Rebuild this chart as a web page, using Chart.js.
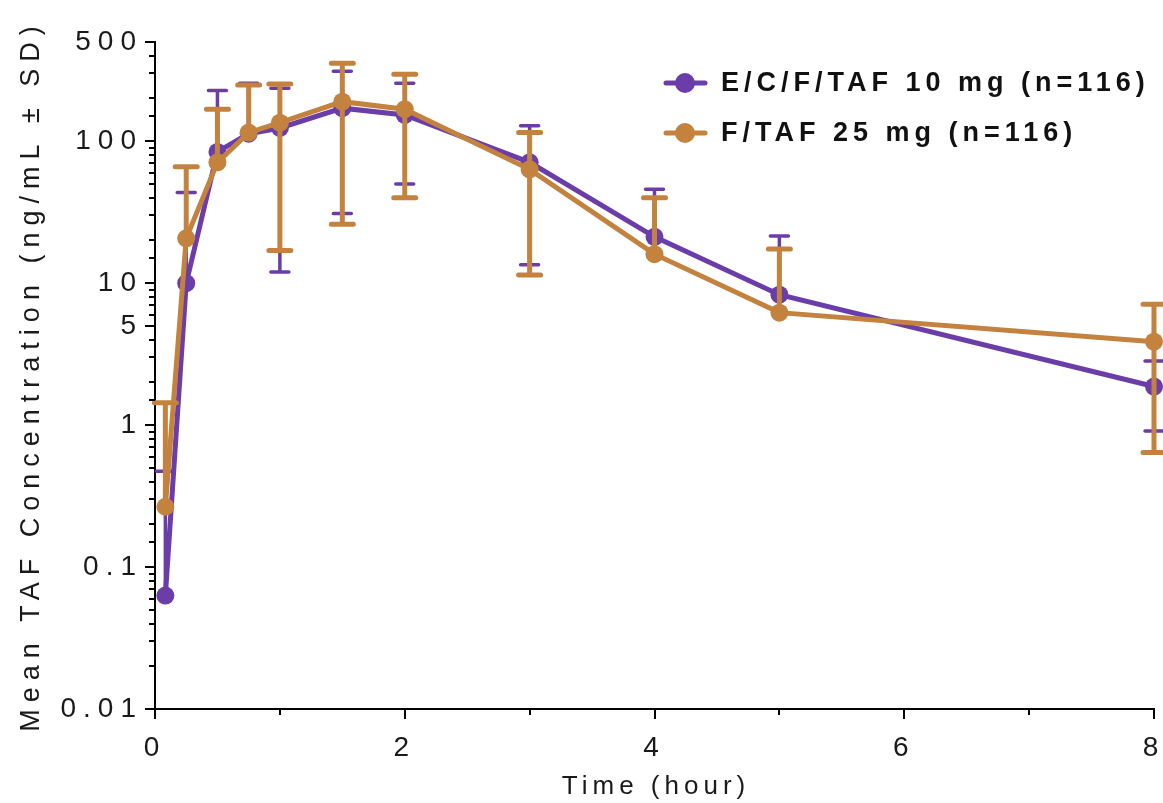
<!DOCTYPE html>
<html>
<head>
<meta charset="utf-8">
<title>Mean TAF Concentration</title>
<script src="https://cdn.jsdelivr.net/npm/chart.js@4.4.1/dist/chart.umd.min.js"></script>
<style>
  html, body { margin: 0; padding: 0; background: #fff; }
  #wrap { width: 1163px; height: 803px; position: relative; }
</style>
</head>
<body>
<div id="wrap"><canvas id="graph_ID"></canvas></div>
<script>
// sampling times (hour)
var times = [0.083, 0.25, 0.5, 0.75, 1, 1.5, 2, 3, 4, 5, 8];

// E/C/F/TAF 10 mg : mean and SD (ng/mL)
var ecfMean = [0.063, 10, 84, 113, 124, 171, 153, 71, 21.2, 8.3, 1.87];
var ecfSD   = [0.41, 33.6, 144, 143, 112, 140, 103, 57.5, 24.6, 13.2, 0.96];

// F/TAF 25 mg : mean and SD (ng/mL)
var ftafMean = [0.266, 20.7, 71, 115, 135, 190, 168, 63.4, 16.0, 6.2, 3.87];
var ftafSD   = [1.17, 45.4, 97, 134, 118, 164, 128, 52, 24, 11.2, 3.23];

var yTickLabels = [0.01, 0.1, 1, 5, 10, 100, 500];
var xTickLabels = [0, 2, 4, 6, 8];

var purple = '#6a3da8';
var orange = '#c4823f';
var fontFamily = '"Liberation Sans", Arial, sans-serif';

Chart.defaults.font.family = fontFamily;

function toPoints(means) {
  return times.map(function (t, i) { return { x: t, y: means[i] }; });
}

function yLabelFor(v) {
  for (var i = 0; i < yTickLabels.length; i++) {
    if (Math.abs(Math.log10(v / yTickLabels[i])) < 1e-6) return String(yTickLabels[i]);
  }
  return null;
}

// mean +/- SD bars, drawn right after each dataset so the layering follows it
var errorBars = {
  id: 'errorBars',
  afterDatasetDraw: function (chart, args) {
    var ds = chart.data.datasets[args.index];
    if (!ds.sd) return;
    var ctx = chart.ctx, xs = chart.scales.x, ys = chart.scales.y;
    ctx.save();
    ctx.strokeStyle = ds.borderColor;
    ctx.lineWidth = ds.errWidth;
    ctx.lineCap = 'round';
    ds.data.forEach(function (p, i) {
      var x = xs.getPixelForValue(p.x);
      var hi = p.y + ds.sd[i], lo = p.y - ds.sd[i];
      var yHi = ys.getPixelForValue(hi);
      var yLo = ys.getPixelForValue(lo > 0 ? lo : p.y);
      ctx.beginPath();
      ctx.moveTo(x, yHi); ctx.lineTo(x, yLo);
      ctx.moveTo(x - ds.capHalf, yHi); ctx.lineTo(x + ds.capHalf, yHi);
      if (lo > 0) {
        ctx.moveTo(x - ds.capHalf, yLo); ctx.lineTo(x + ds.capHalf, yLo);
      }
      ctx.stroke();
    });
    ctx.restore();
  }
};

// outside tick marks (long on labelled values), x title and the legend
var decorations = {
  id: 'decorations',
  beforeDraw: function (chart) {
    chart.ctx.letterSpacing = '7px';
  },
  afterDraw: function (chart) {
    var ctx = chart.ctx, xs = chart.scales.x, ys = chart.scales.y, a = chart.chartArea;
    ctx.save();
    ctx.strokeStyle = '#000';
    ctx.lineWidth = 2;
    ctx.beginPath();
    ys.ticks.forEach(function (t) {
      var y = Math.round(ys.getPixelForValue(t.value));
      var len = yLabelFor(t.value) ? 10 : 6;
      ctx.moveTo(a.left - len, y); ctx.lineTo(a.left, y);
    });
    xs.ticks.forEach(function (t) {
      var x = Math.round(xs.getPixelForValue(t.value));
      var len = xTickLabels.indexOf(t.value) >= 0 ? 10 : 6;
      ctx.moveTo(x, a.bottom); ctx.lineTo(x, a.bottom + len);
    });
    ctx.stroke();

    // x axis title
    ctx.letterSpacing = '5px';
    ctx.fillStyle = '#1a1a1a';
    ctx.font = '26px ' + fontFamily;
    ctx.textAlign = 'center';
    ctx.textBaseline = 'middle';
    ctx.fillText('Time (hour)', 656, 787);

    // legend
    ctx.letterSpacing = '5px';
    ctx.font = 'bold 27px ' + fontFamily;
    ctx.textAlign = 'left';
    chart.data.datasets.forEach(function (ds, i) {
      var y = 83 + i * 50;
      ctx.strokeStyle = ds.borderColor;
      ctx.fillStyle = ds.borderColor;
      ctx.lineWidth = 5;
      ctx.lineCap = 'round';
      ctx.beginPath();
      ctx.moveTo(666, y); ctx.lineTo(705, y);
      ctx.stroke();
      ctx.beginPath();
      ctx.arc(685, y, 10, 0, Math.PI * 2);
      ctx.fill();
      ctx.fillStyle = '#111';
      ctx.fillText(ds.label, 721, y + 1);
    });
    ctx.restore();
    ctx.letterSpacing = '0px';
  }
};

var graphique = new Chart(document.getElementById('graph_ID').getContext('2d'), {
  type: 'line',
  data: {
    datasets: [
      {
        label: 'E/C/F/TAF 10 mg (n=116)',
        data: toPoints(ecfMean),
        sd: ecfSD,
        borderColor: purple,
        backgroundColor: purple,
        borderWidth: 5,
        pointRadius: 9,
        pointBorderWidth: 0,
        tension: 0,
        clip: false,
        errWidth: 3.5,
        capHalf: 9,
        order: 2
      },
      {
        label: 'F/TAF 25 mg (n=116)',
        data: toPoints(ftafMean),
        sd: ftafSD,
        borderColor: orange,
        backgroundColor: orange,
        borderWidth: 5,
        pointRadius: 9,
        pointBorderWidth: 0,
        tension: 0,
        clip: false,
        errWidth: 5,
        capHalf: 11,
        order: 1
      }
    ]
  },
  options: {
    responsive: true,
    maintainAspectRatio: false,
    animation: false,
    devicePixelRatio: 1,
    layout: { padding: { top: 42, right: 8, bottom: 0, left: 0 } },
    plugins: {
      legend: { display: false },
      tooltip: { enabled: false }
    },
    scales: {
      x: {
        type: 'linear',
        min: 0,
        max: 8,
        grid: { display: false, drawTicks: false },
        border: { display: true, color: '#000', width: 2 },
        ticks: {
          stepSize: 1,
          autoSkip: false,
          maxRotation: 0,
          padding: 22,
          color: '#1a1a1a',
          font: { size: 28 },
          callback: function (v) { return xTickLabels.indexOf(v) >= 0 ? String(v) : ''; }
        },
        afterFit: function (s) {
          s.height = 94;
          s.paddingLeft = 0;
          s.paddingRight = 0;
        }
      },
      y: {
        type: 'logarithmic',
        min: 0.01,
        max: 500,
        grid: { display: false, drawTicks: false },
        border: { display: true, color: '#000', width: 2 },
        ticks: {
          autoSkip: false,
          padding: 12,
          color: '#1a1a1a',
          font: { size: 28 },
          callback: function (v) { return yLabelFor(v) || ''; }
        },
        title: {
          display: true,
          text: 'Mean TAF Concentration (ng/mL ± SD)',
          color: '#1a1a1a',
          font: { size: 27 },
          padding: { top: 15, bottom: 0 }
        },
        afterFit: function (s) {
          s.width = 155;
          s.paddingTop = 0;
          s.paddingBottom = 0;
        }
      }
    }
  },
  plugins: [errorBars, decorations]
});
</script>
</body>
</html>
